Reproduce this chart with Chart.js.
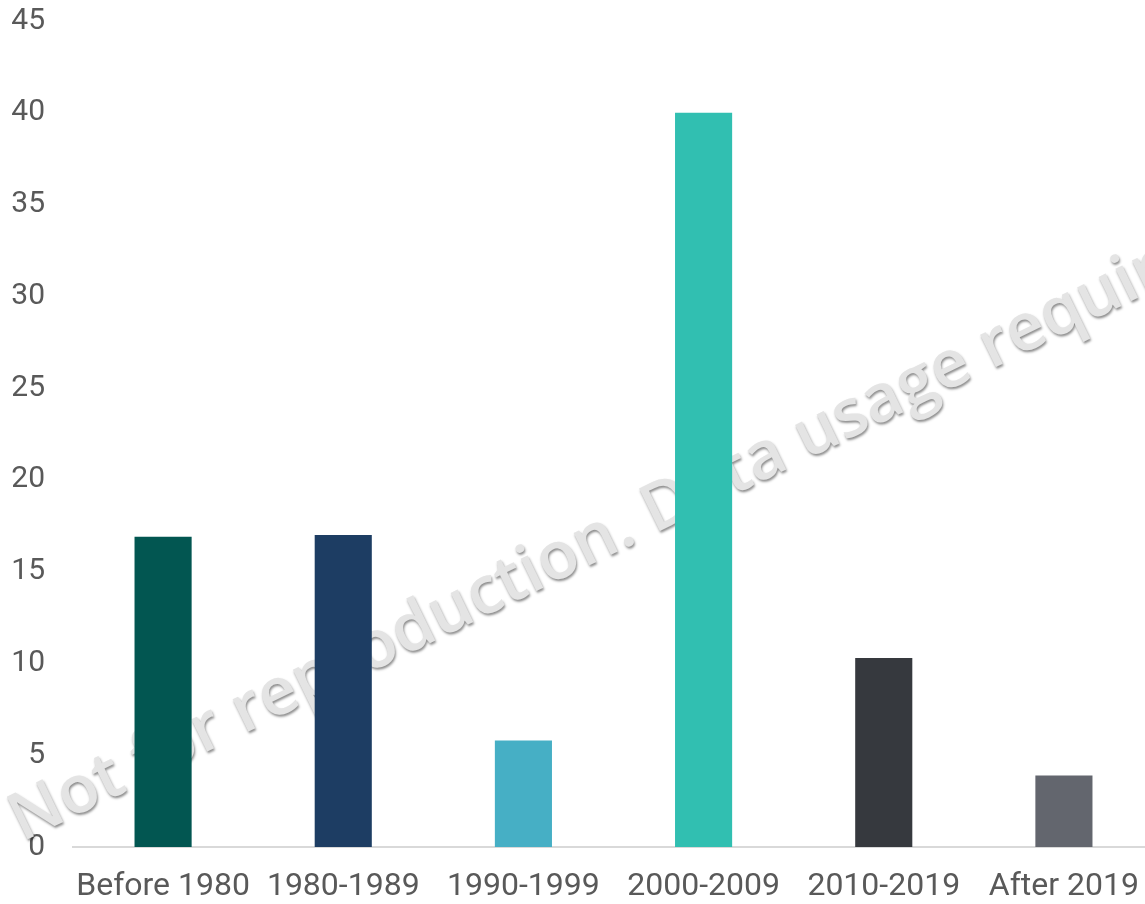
<!DOCTYPE html>
<html>
<head>
<meta charset="utf-8">
<script src="https://cdn.jsdelivr.net/npm/chart.js@4/dist/chart.umd.min.js"></script>
<style>
  html, body { margin: 0; padding: 0; background: #ffffff; overflow: hidden; width: 1145px; height: 904px; }
  #wrap { position: absolute; left: 0; top: 0; width: 1154px; height: 1000px; }
  canvas { display: block; }
</style>
</head>
<body>
<div id="wrap"><canvas id="c" width="1154" height="904"></canvas></div>
<script>
const categories = ["Before 1980", "1980-1989", "1990-1999", "2000-2009", "2010-2019", "After 2019"];
const values = [16.9, 17.0, 5.8, 40.0, 10.3, 3.9];
const barColors = ["#025651", "#1D3D63", "#46AFC5", "#31BFB1", "#36393E", "#63666E"];
const yTicks = [0, 5, 10, 15, 20, 25, 30, 35, 40, 45];
const watermarkText = "Not for reproduction. Data usage requires permission.";

const watermark = {
  id: "watermark",
  beforeDatasetsDraw(chart) {
    const ctx = chart.ctx;
    ctx.save();
    const wrapTop = parseFloat(document.getElementById("wrap").style.top || "0");
    ctx.translate(22, 842 - wrapTop);
    ctx.rotate(-26 * Math.PI / 180);
    ctx.font = "600 60px 'Open Sans'";
    const w = ctx.measureText("Not for reproduction").width;
    const s = 668 / w;
    ctx.scale(s, s);
    ctx.textBaseline = "alphabetic";
    ctx.textAlign = "left";
    ctx.shadowColor = "rgba(0,0,0,0.45)";
    ctx.shadowOffsetX = 1;
    ctx.shadowOffsetY = 2;
    ctx.shadowBlur = 2.5;
    ctx.fillStyle = "#e4e4e4";
    ctx.fillText(watermarkText, 0, 0);
    ctx.restore();
  }
};

const chart = new Chart(document.getElementById("c"), {
  type: "bar",
  data: {
    labels: categories,
    datasets: [{
      data: values,
      backgroundColor: barColors,
      borderWidth: 0,
      barPercentage: 0.317,
      categoryPercentage: 1.0
    }]
  },
  options: {
    responsive: false,
    maintainAspectRatio: false,
    animation: false,
    layout: { padding: { left: 12, right: 0, top: 0, bottom: 0 } },
    plugins: { legend: { display: false }, tooltip: { enabled: false } },
    scales: {
      x: {
        grid: { display: false, drawTicks: false },
        border: { display: true, color: "#d9d9d9", width: 2 },
        afterFit(scale) { scale.height = 57; },
        ticks: {
          color: "#595959",
          font: { family: "Roboto", size: 32 },
          padding: 21,
          maxRotation: 0,
          autoSkip: false
        }
      },
      y: {
        min: 0,
        max: 45,
        afterBuildTicks(scale) { scale.ticks = yTicks.map(v => ({ value: v })); },
        grid: { display: false, drawTicks: false },
        border: { display: false },
        afterFit(scale) { scale.width = 61; },
        ticks: {
          color: "#595959",
          font: { family: "Roboto", size: 30 },
          padding: 28
        }
      }
    }
  },
  plugins: [watermark]
});

// place plot area: top (45) at y=21, baseline (0) at y=847, right edge at x=1153.5
(function place() {
  const wrap = document.getElementById("wrap");
  const t = chart.chartArea.top;
  const b = chart.chartArea.bottom;
  const r = chart.chartArea.right;
  const d = 21 - t;
  const H = 904 + (847 - d - b);
  const W = Math.round(1154 + (1153.5 - r));
  wrap.style.top = d + "px";
  wrap.style.height = H + "px";
  wrap.style.width = W + "px";
  chart.resize(W, H);
})();
</script>
</body>
</html>
